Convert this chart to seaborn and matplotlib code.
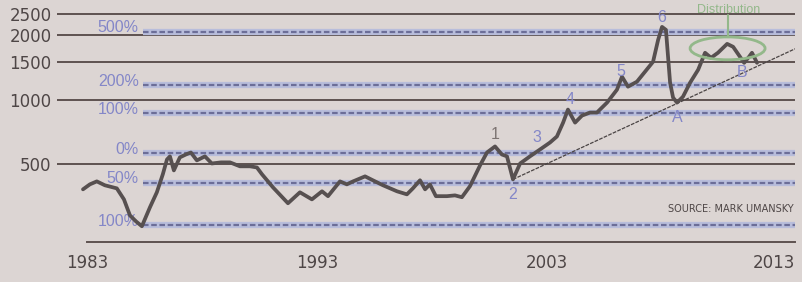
import numpy as np
import pandas as pd
import matplotlib
matplotlib.use("Agg")
import matplotlib.pyplot as plt
import seaborn as sns
from matplotlib.patches import Ellipse

# price history (log scale)
years = [1982.83, 1983.13, 1983.43, 1983.78, 1984.30, 1984.61, 1984.87, 1985.13, 1985.39,
         1985.74, 1986.04, 1986.30, 1986.48, 1986.61, 1986.78, 1987.04, 1987.30, 1987.52,
         1987.78, 1988.13, 1988.43, 1988.83, 1989.22, 1989.65, 1990.09, 1990.39, 1990.61,
         1991.09, 1991.74, 1992.26, 1992.78, 1993.22, 1993.48, 1994.00, 1994.30, 1994.57,
         1995.09, 1995.43, 1995.87, 1996.48, 1996.91, 1997.17, 1997.48, 1997.70, 1997.91,
         1998.17, 1998.65, 1999.00, 1999.30, 1999.65, 2000.09, 2000.39, 2000.74, 2001.04,
         2001.26, 2001.52, 2001.83, 2002.26, 2002.70, 2003.13, 2003.43, 2003.70, 2003.91,
         2004.22, 2004.52, 2004.87, 2005.17, 2005.61, 2006.04, 2006.26, 2006.52, 2006.91,
         2007.26, 2007.61, 2007.83, 2008.00, 2008.17, 2008.35, 2008.48, 2008.65, 2008.91,
         2009.22, 2009.57, 2009.87, 2010.13, 2010.43, 2010.83, 2011.09, 2011.39, 2011.57,
         2011.78, 2011.91, 2012.13]
prices = [383, 404, 417, 400, 387, 344, 290, 272, 258,
          316, 371, 450, 527, 545, 469, 539, 556, 568,
          522, 545, 505, 511, 511, 490, 490, 484, 450,
          391, 330, 371, 344, 375, 356, 417, 404, 417,
          440, 422, 400, 375, 363, 387, 422, 383, 404,
          356, 356, 359, 352, 396, 495, 568, 606, 556,
          545, 426, 505, 545, 587, 632, 674, 782, 899,
          782, 843, 871, 871, 969, 1112, 1278, 1149, 1212,
          1348, 1500, 1896, 2178, 2110, 1199, 1022, 969, 1032,
          1199, 1377, 1651, 1565, 1651, 1816, 1760, 1581, 1483,
          1581, 1651, 1483]

# support trend line from wave 2 through A and B
trend_years = [2001.52, 2013.78]
trend_prices = [426, 1722]

# extension levels measured from the 1985 low / 1987 high
level_names = ["500%", "200%", "100%", "0%", "50%", "100%"]
level_values = [2067, 1164, 863, 562, 412, 261]

grid_values = [500, 1000, 1500, 2000, 2500]
year_ticks = [1983, 1993, 2003, 2013.78]
year_labels = ["1983", "1993", "2003", "2013"]

wave_names = ["1", "2", "3", "4", "5", "6", "A", "B"]
wave_years = [2000.74, 2001.52, 2002.57, 2004.0, 2006.22, 2008.0, 2008.65, 2011.48]
wave_prices = [689, 363, 667, 1000, 1348, 2397, 826, 1334]

BG = "#dcd5d3"
DARK = "#5e5250"
BLUE = "#6c6e98"
LABEL = "#8487c8"
GREEN = "#93b88a"

sns.set_theme(style="white")
plt.rcParams["font.family"] = ["Liberation Sans Narrow", "DejaVu Sans Condensed", "DejaVu Sans"]

fig = plt.figure(figsize=(8.02, 2.82), dpi=100, facecolor=BG)
ax = fig.add_axes([57 / 802, 40 / 282, 738 / 802, 242 / 282], facecolor=BG)
ax.set_yscale("log")
ax.set_xlim(1981.7, 2013.78)
ax.set_ylim(218, 2904)

for v in grid_values:
    ax.axhline(v, color=DARK, lw=1.4, zorder=1)

start = 1985.43
for name, v in zip(level_names, level_values):
    ax.hlines(v, start, 2013.78, color="#b8bddb", lw=4.5, zorder=1)
    ax.hlines(v, start, 2013.78, color=BLUE, lw=1.6, linestyles=(0, (2.5, 1.2)), zorder=2)
    ax.annotate(name, (1985.25, v), xytext=(0, 3), textcoords="offset points",
                ha="right", va="center", color=LABEL, fontsize=11.5,
                family=["Liberation Sans", "DejaVu Sans"])

df = pd.DataFrame({"year": years, "price": prices})
sns.lineplot(data=df, x="year", y="price", ax=ax, color="#575050", lw=2.7, zorder=5)
ax.plot(trend_years, trend_prices, color="#4a4444", lw=0.9, ls=(0, (3, 1)), zorder=4)

for name, x, y in zip(wave_names, wave_years, wave_prices):
    ax.text(x, y, name, ha="center", va="center", fontsize=11.5,
            color="#7d7472" if name == "1" else LABEL, zorder=6,
            family=["Liberation Sans", "DejaVu Sans"])

# distribution ellipse around the 2010-2011 top
inv = ax.transAxes.inverted()
c = np.log10(1731)
p0 = inv.transform(ax.transData.transform((2009.22, 10 ** (c - 0.053))))
p1 = inv.transform(ax.transData.transform((2012.48, 10 ** (c + 0.053))))
ax.add_patch(Ellipse(((p0[0] + p1[0]) / 2, (p0[1] + p1[1]) / 2), p1[0] - p0[0], p1[1] - p0[1],
                     transform=ax.transAxes, fill=False, ec=GREEN, lw=2, zorder=6))
ax.plot([2010.87, 2010.87], [10 ** (c + 0.053), 2480], color=GREEN, lw=1.5, zorder=6, clip_on=False)
ax.text(2010.9, 2530, "Distribution", ha="center", va="baseline", color=GREEN,
        fontsize=9, clip_on=False, family=["Liberation Sans", "DejaVu Sans"])

ax.text(2013.7, 310, "SOURCE: MARK UMANSKY", ha="right", va="center", fontsize=7,
        color="#4e4646")

ax.set_yticks(grid_values)
ax.set_yticklabels([str(v) for v in grid_values])
ax.yaxis.set_minor_locator(matplotlib.ticker.NullLocator())
ax.tick_params(axis="y", length=0, pad=4, labelsize=12, labelcolor="#4e4646")
ax.set_xticks(year_ticks)
ax.set_xticklabels(year_labels)
ax.tick_params(axis="x", direction="in", length=4, width=1, color=DARK, pad=9,
               labelsize=12, labelcolor="#4e4646")
ax.get_xticklabels()[-1].set_ha("right")
ax.set_xlabel("")
ax.set_ylabel("")

for s in ["left", "top", "right"]:
    ax.spines[s].set_visible(False)
ax.spines["bottom"].set_color(DARK)
ax.spines["bottom"].set_linewidth(1.4)
ax.spines["bottom"].set_bounds(1983, 2013.78)

fig.savefig("out.png", dpi=100, facecolor=BG)
